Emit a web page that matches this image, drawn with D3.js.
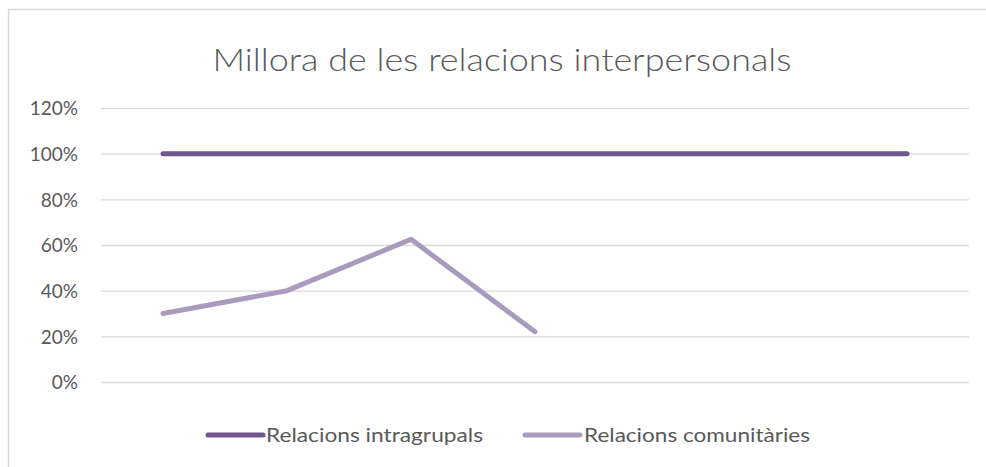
<!DOCTYPE html>
<html>
<head>
<meta charset="utf-8">
<script src="https://cdn.jsdelivr.net/npm/d3@7"></script>
<style>
  body { margin: 0; background: #fff; }
  text { font-family: Lato, "Open Sans", sans-serif; fill: #595959; }
</style>
</head>
<body>
<div id="chart"></div>
<script>
// ... chart data
const title = 'Millora de les relacions interpersonals';
const categories = ['1', '2', '3', '4', '5', '6', '7'];
const seriesNames = ['Relacions intragrupals', 'Relacions comunitàries'];
const intragrupals = [1, 1, 1, 1, 1, 1, 1];
const comunitaries = [0.30, 0.40, 0.625, 0.22, null, null, null];
const yTicks = [0, 0.2, 0.4, 0.6, 0.8, 1.0, 1.2];
const colors = ['#70578F', '#A99BBD'];

const W = 986, H = 467;
const margin = { top: 108, right: 17, bottom: 85, left: 101 };
const width = W - margin.left - margin.right;
const height = H - margin.top - margin.bottom;

const svg = d3.select('#chart').append('svg')
    .attr('width', W)
    .attr('height', H);

// chart outline (runs off right/bottom like the source)
svg.append('rect')
    .attr('x', 8.5).attr('y', 9.5)
    .attr('width', 1000).attr('height', 500)
    .attr('fill', 'none')
    .attr('stroke', '#d9d9d9')
    .attr('stroke-width', 1.5);

svg.append('text')
    .attr('x', 502).attr('y', 71)
    .attr('text-anchor', 'middle')
    .attr('font-size', 31)
    .attr('font-weight', 300)
    .attr('textLength', 579)
    .attr('lengthAdjust', 'spacingAndGlyphs')
    .text(title);

const g = svg.append('g')
    .attr('transform', 'translate(' + margin.left + ',' + margin.top + ')');

const x = d3.scaleBand()
    .domain(categories)
    .range([0, width]);

const y = d3.scaleLinear()
    .domain([0, 1.2])
    .range([height, 0]);

// ... grid
g.append('g')
    .attr('class', 'grid')
    .call(d3.axisLeft(y).tickValues(yTicks).tickSize(-width).tickFormat(''))
    .call(s => s.select('.domain').remove())
    .call(s => s.selectAll('line').attr('stroke', '#d9d9d9').attr('stroke-width', 1.3));

// ... y labels
g.append('g')
    .call(d3.axisLeft(y).tickValues(yTicks).tickSize(0).tickPadding(23).tickFormat(d3.format('.0%')))
    .call(s => s.select('.domain').remove())
    .call(s => s.selectAll('text').attr('font-size', 19).attr('fill', '#595959')
        .attr('dy', '0.36em')
        .style('font-family', 'Lato, sans-serif'));

const line = d3.line()
    .defined(d => d != null)
    .x((d, i) => x(categories[i]) + x.bandwidth() / 2)
    .y(d => y(d));

[intragrupals, comunitaries].forEach((vals, k) => {
    g.append('path')
        .datum(vals)
        .attr('fill', 'none')
        .attr('stroke', colors[k])
        .attr('stroke-width', 5)
        .attr('stroke-linecap', 'round')
        .attr('stroke-linejoin', 'round')
        .attr('d', line);
});

// ... legend
const legend = [
    { x: 208, tx: 266, tw: 217 },
    { x: 525, tx: 584, tw: 226 }
];
legend.forEach((l, k) => {
    svg.append('line')
        .attr('x1', l.x).attr('x2', l.x + 55)
        .attr('y1', 435).attr('y2', 435)
        .attr('stroke', colors[k])
        .attr('stroke-width', 5)
        .attr('stroke-linecap', 'round');
    svg.append('text')
        .attr('x', l.tx).attr('y', 442)
        .attr('font-size', 20)
        .attr('textLength', l.tw)
        .attr('lengthAdjust', 'spacingAndGlyphs')
        .text(seriesNames[k]);
});
</script>
</body>
</html>
